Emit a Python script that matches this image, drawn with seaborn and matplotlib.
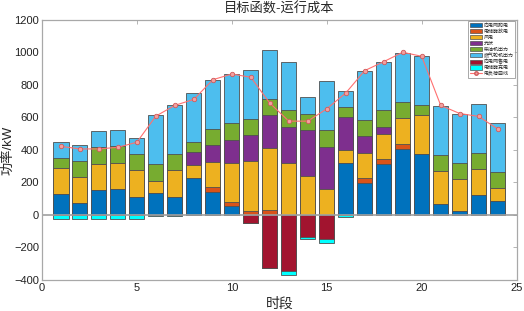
import numpy as np
import pandas as pd
import seaborn as sns
import matplotlib.pyplot as plt
from matplotlib.patches import Patch
from matplotlib.lines import Line2D

# 时段 1..24
hours = np.arange(1, 25)

# 正向出力 (kW)
grid_buy = [128, 72, 152, 161, 113, 134, 113, 227, 138, 52, 0, 0,
            0, 0, 0, 319, 194, 311, 408, 375, 70, 23, 122, 84]
ess_discharge = [0, 0, 0, 0, 0, 0, 0, 0, 31, 28, 25, 29,
                 0, 0, 0, 0, 31, 31, 27, 0, 0, 0, 0, 0]
wind = [160, 161, 163, 160, 161, 76, 161, 80, 159, 241, 305, 381,
        319, 239, 161, 81, 156, 156, 160, 237, 198, 197, 160, 81]
pv = [0, 0, 0, 0, 0, 0, 0, 80, 100, 142, 162, 202,
      221, 284, 259, 202, 105, 44, 0, 0, 0, 0, 0, 0]
diesel = [60, 101, 101, 101, 99, 101, 103, 60, 101, 101, 99, 101,
          103, 97, 101, 61, 99, 101, 101, 62, 101, 101, 101, 101]
gas_turbine = [103, 99, 99, 101, 101, 303, 301, 303, 301, 303, 301, 301,
               300, 103, 303, 101, 303, 300, 303, 302, 301, 303, 301, 298]

# 负向 (kW)
grid_sell = [0, 0, 0, 0, 0, 0, 0, 0, 0, 0, -48, -329,
             -344, -135, -146, 0, 0, 0, 0, 0, 0, 0, 0, 0]
ess_charge = [-25, -25, -25, -25, -25, -5, -5, 0, 0, 0, 0, 0,
              -26, -12, -26, -15, 0, 0, 0, 0, 0, 0, 0, 0]

# 电负荷曲线
load = [422, 406, 406, 416, 447, 608, 674, 711, 832, 867, 847, 688,
        577, 577, 653, 750, 888, 943, 1001, 976, 674, 624, 606, 529]

pos_names = ["向电网购电", "电储能放电", "风电", "光伏", "柴油机出力", "燃气轮机出力"]
neg_names = ["向电网售电", "电储能充电"]
colors = {
    "向电网购电": "#0072BD",
    "电储能放电": "#D95319",
    "风电": "#EDB120",
    "光伏": "#7E2F8E",
    "柴油机出力": "#77AC30",
    "燃气轮机出力": "#4DBEEE",
    "向电网售电": "#A2142F",
    "电储能充电": "#00FFFF",
}

df = pd.DataFrame({
    "hour": hours,
    "向电网购电": grid_buy,
    "电储能放电": ess_discharge,
    "风电": wind,
    "光伏": pv,
    "柴油机出力": diesel,
    "燃气轮机出力": gas_turbine,
    "向电网售电": grid_sell,
    "电储能充电": ess_charge,
    "load": load,
})

sns.set_theme(style="white")
plt.rcParams["font.family"] = ["Liberation Sans", "Noto Sans CJK SC"]

fig = plt.figure(figsize=(5.24, 3.11), dpi=100)
ax = fig.add_axes([0.08, 0.10, 0.906, 0.836])

bar_kws = dict(native_scale=True, saturation=1, width=0.8,
               edgecolor="#505050", linewidth=0.6, ax=ax, errorbar=None)

# stacked bars: draw cumulative totals from the top down
pos_cum = df[pos_names].cumsum(axis=1)
for name in reversed(pos_names):
    sns.barplot(x=df["hour"], y=pos_cum[name], color=colors[name], **bar_kws)

neg_cum = df[neg_names].cumsum(axis=1)
for name in reversed(neg_names):
    sns.barplot(x=df["hour"], y=neg_cum[name], color=colors[name], **bar_kws)

ax.axhline(0, color="#a0a0a0", lw=1.2, zorder=1.5)

sns.lineplot(x=df["hour"], y=df["load"], ax=ax, color="#ff7070", lw=0.8,
             marker="o", markersize=3.2, markerfacecolor="#f2a0a0",
             markeredgecolor="#d05a5a", markeredgewidth=0.6, zorder=5)

ax.set_xlim(0, 25)
ax.set_ylim(-400, 1200)
ax.set_xticks(range(0, 26, 5))
ax.set_xticklabels([str(v) for v in range(0, 26, 5)])
ax.set_yticks(range(-400, 1201, 200))
ax.set_title("目标函数-运行成本", fontsize=9.5, pad=5)
ax.set_xlabel("时段", fontsize=10, labelpad=3)
ax.set_ylabel("功率/kW", fontsize=9.5, labelpad=0)

for sp in ax.spines.values():
    sp.set_color("#a8a8a8")
    sp.set_linewidth(0.9)
ax.tick_params(direction="in", length=3, width=0.6, color="#a8a8a8",
               labelsize=8, labelcolor="#222222", top=True, right=True, pad=2)

handles = [Patch(facecolor=colors[n], edgecolor="#505050", linewidth=0.5, label=n)
           for n in pos_names + neg_names]
handles.append(Line2D([0], [0], color="#ff7070", lw=0.8, marker="o", markersize=2.5,
                      markerfacecolor="#f2a0a0", markeredgecolor="#d05a5a",
                      label="电负荷曲线"))
leg = ax.legend(handles=handles, loc="upper right", fontsize=3.6, frameon=True,
                fancybox=False, borderaxespad=0.3, handlelength=2.4, handleheight=0.9,
                labelspacing=0.18, borderpad=0.3, handletextpad=0.4)
leg.get_frame().set_edgecolor("#808080")
leg.get_frame().set_linewidth(0.6)

fig.savefig("out.png", dpi=100)
